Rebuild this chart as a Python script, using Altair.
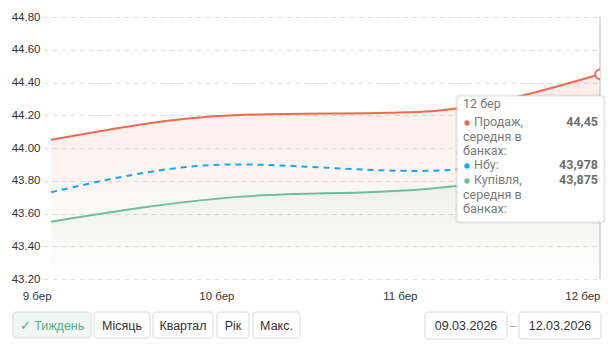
import altair as alt
import pandas as pd

# ---- data ----
days = [9, 10, 11, 12]
sell = [44.05, 44.20, 44.22, 44.45]     # Продаж, середня в банках
nbu = [43.73, 43.90, 43.86, 43.978]      # Нбу
buy = [43.55, 43.70, 43.745, 43.875]     # Купівля, середня в банках
y_ticks = [43.2, 43.4, 43.6, 43.8, 44.0, 44.2, 44.4, 44.6, 44.8]

tooltip_title = "12 бер"
tooltip_rows = [
    ["Продаж,", "середня в", "банках:"],
    ["Нбу:"],
    ["Купівля,", "середня в", "банках:"],
]
tooltip_values = ["44,45", "43,978", "43,875"]
buttons = ["✓ Тиждень", "Місяць", "Квартал", "Рік", "Макс."]
date_from = "09.03.2026"
date_to = "12.03.2026"

RED = "#ef6a4e"
BLUE = "#17a6ee"
GREEN = "#6cbf9f"

df = pd.DataFrame({"day": days, "sell": sell, "nbu": nbu, "buy": buy})

W, H = 557, 262
xs = alt.Scale(domain=[8.956, 12], nice=False, zero=False)
ys = alt.Scale(domain=[43.2, 44.8], nice=False, zero=False)

x_axis = alt.Axis(
    values=days, labelExpr="datum.value + ' бер'", grid=False, ticks=False,
    domain=False, labelAlign="right", labelPadding=11, labelOverlap=False,
    labelFontSize=11.5, labelColor="#333", labelFont="Liberation Sans", title=None,
    labelFlush=False, labelBound=False)
y_axis = alt.Axis(values=y_ticks, format=".2f", grid=True, gridDash=[5, 4],
                  gridColor="#dddddd", ticks=False, domain=False, labelPadding=3,
                  labelOverlap=False, labelFontSize=11.5, labelColor="#333",
                  labelFont="Liberation Sans", title=None)


def X():
    return alt.X("day:Q", scale=xs, axis=x_axis)


def Y(field):
    return alt.Y(f"{field}:Q", scale=ys, axis=y_axis)


base = alt.Chart(df)

red_area = base.mark_area(
    interpolate="monotone",
    color=alt.Gradient(gradient="linear", x1=0, y1=0, x2=0, y2=1, stops=[
        alt.GradientStop(color="rgba(239,106,78,0.13)", offset=0),
        alt.GradientStop(color="rgba(239,106,78,0.0)", offset=1)]),
).encode(x=X(), y=Y("sell"), y2=alt.datum(43.2))

green_area = base.mark_area(
    interpolate="monotone",
    color=alt.Gradient(gradient="linear", x1=0, y1=0, x2=0, y2=1, stops=[
        alt.GradientStop(color="rgba(108,191,159,0.12)", offset=0),
        alt.GradientStop(color="rgba(108,191,159,0.0)", offset=1)]),
).encode(x=X(), y=Y("buy"), y2=alt.datum(43.2))

red_line = base.mark_line(interpolate="monotone", color=RED, strokeWidth=2).encode(
    x=X(), y=Y("sell"))
green_line = base.mark_line(interpolate="monotone", color=GREEN, strokeWidth=2).encode(
    x=X(), y=Y("buy"))
blue_line = base.mark_line(interpolate="monotone", color=BLUE, strokeWidth=2,
                           strokeDash=[6, 5]).encode(x=X(), y=Y("nbu"))

last = df[df["day"] == 12]
cursor = alt.Chart(last).mark_rule(color="#b8c0c0", strokeWidth=1).encode(
    x=X(), y=alt.value(0), y2=alt.value(H))
hover_pt = alt.Chart(last).mark_point(
    shape="circle", size=90, filled=True, fill="white", stroke=RED,
    strokeWidth=2, opacity=1, clip=True).encode(x=X(), y=Y("sell"))

one = alt.Data(values=[{"k": 1}])
OX, OY = 43, 17  # plot origin in page pixels


def box(x0, y0, x1, y1, fill="white", stroke="#dcdcdc", r=3, sw=1, op=1.0):
    return alt.Chart(one).mark_rect(fill=fill, stroke=stroke, strokeWidth=sw,
                                    cornerRadius=r, opacity=op).encode(
        x=alt.value(x0 - OX), x2=alt.value(x1 - OX),
        y=alt.value(y0 - OY), y2=alt.value(y1 - OY))


def txt(s, x, y, color="#333", size=12, align="left", weight="normal",
        font="Liberation Sans"):
    return alt.Chart(one).mark_text(text=s, align=align, baseline="middle",
                                    color=color, fontSize=size, fontWeight=weight,
                                    font=font).encode(
        x=alt.value(x - OX), y=alt.value(y - OY))


def dot(x, y, color):
    return alt.Chart(one).mark_point(shape="circle", filled=True, size=28,
                                     color=color, opacity=1).encode(
        x=alt.value(x - OX), y=alt.value(y - OY))


layers = [red_area, green_area, red_line, green_line, blue_line, cursor, hover_pt]

# tooltip
layers += [
    box(455, 94, 606, 224, fill="#000000", stroke="#000000", r=4, sw=0, op=0.04),
    box(456, 95, 605, 223, fill="#000000", stroke="#000000", r=4, sw=0, op=0.05),
    box(457, 96, 604, 222, fill="white", stroke="#e4e4e4", r=3),
    txt(tooltip_title, 463, 104, color="#777", size=12.5, font="Roboto"),
]
row_y = [122, 165, 180]
colors = [RED, BLUE, GREEN]
for i, lines in enumerate(tooltip_rows):
    y0 = row_y[i]
    layers.append(dot(467, y0 + 1, colors[i]))
    for j, s in enumerate(lines):
        layers.append(txt(s, 474 if j == 0 else 463, y0 + j * 14.5,
                          color="#7a7a7a", size=12.5, font="Roboto"))
    layers.append(txt(tooltip_values[i], 598, y0, color="#6e6e6e", size=12.5,
                      align="right", weight="bold", font="Roboto"))

# buttons
btn_x = [(13, 91), (94, 150), (153, 213), (217, 249), (253, 300)]
for i, (a, b) in enumerate(btn_x):
    sel = i == 0
    layers.append(box(a, 312, b, 338, fill="#f1f7f5" if sel else "white",
                      stroke="#d9d9d9"))
    layers.append(txt(buttons[i], (a + b) / 2, 325.5,
                      color="#4fae88" if sel else "#333", size=12.5, align="center"))
layers += [
    box(425, 312, 507, 339, stroke="#d9d9d9"),
    txt(date_from, 466, 325.5, size=12.5, align="center"),
    txt("–", 513, 325.5, color="#aaa", size=12.5, align="center"),
    box(519, 312, 601, 339, stroke="#d9d9d9"),
    txt(date_to, 560, 325.5, size=12.5, align="center"),
]

chart = alt.layer(*layers).properties(
    width=W, height=H,
    autosize=alt.AutoSizeParams(type="none"),
    padding={"left": 43, "top": 17, "right": 8, "bottom": 74},
    background="white",
).configure_view(stroke=None)

chart.save("out.html", embed_options={"renderer": "svg", "actions": False})
